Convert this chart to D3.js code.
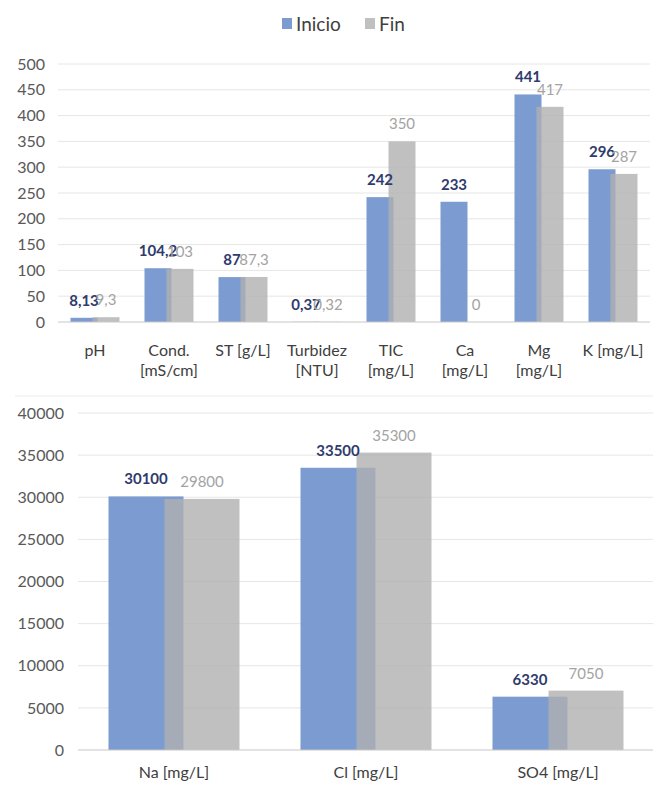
<!DOCTYPE html>
<html>
<head>
<meta charset="utf-8">
<script src="https://cdn.jsdelivr.net/npm/d3@7"></script>
<style>
  html, body { margin: 0; padding: 0; background: #fff; }
  svg { display: block; font-family: Lato, "Open Sans", sans-serif; }
</style>
</head>
<body>
<svg id="chart" width="653" height="788"></svg>
<script>
// Parámetros fisicoquímicos (panel superior)
const topCategories = ["pH", "Cond.\n[mS/cm]", "ST [g/L]", "Turbidez\n[NTU]", "TIC\n[mg/L]", "Ca\n[mg/L]", "Mg\n[mg/L]", "K [mg/L]"];
const topInicio = [8.13, 104.2, 87, 0.37, 242, 233, 441, 296];
const topFin = [9.3, 103, 87.3, 0.32, 350, 0, 417, 287];
const topTicks = [0, 50, 100, 150, 200, 250, 300, 350, 400, 450, 500];

// Iones mayoritarios (panel inferior)
const bottomCategories = ["Na [mg/L]", "Cl [mg/L]", "SO4 [mg/L]"];
const bottomInicio = [30100, 33500, 6330];
const bottomFin = [29800, 35300, 7050];
const bottomTicks = [0, 5000, 10000, 15000, 20000, 25000, 30000, 35000, 40000];

const seriesNames = ["Inicio", "Fin"];

const BLUE = "#7b9bd1";
const GREY = "#b0b0b0";
const svg = d3.select("#chart");

const fmt = v => String(v).replace(".", ",");

// Leyenda
const legend = svg.append("g");
legend.append("rect").attr("x", 282).attr("y", 18).attr("width", 10).attr("height", 11).attr("fill", BLUE);
legend.append("text").attr("x", 296).attr("y", 31).attr("font-size", 19).attr("fill", "#404040").text(seriesNames[0]);
legend.append("rect").attr("x", 365).attr("y", 18).attr("width", 10).attr("height", 11).attr("fill", GREY).attr("opacity", 0.8);
legend.append("text").attr("x", 379).attr("y", 31).attr("font-size", 19).attr("fill", "#404040").text(seriesNames[1]);

function panel(opt) {
  const g = svg.append("g");
  const x = d3.scaleBand().domain(opt.categories).range([opt.x0, opt.x1]);
  const y = d3.scaleLinear().domain([0, opt.ticks[opt.ticks.length - 1]]).range([opt.y0, opt.y1]);

  // Líneas de cuadrícula
  g.append("g").selectAll("line").data(opt.ticks.slice(1)).join("line")
    .attr("x1", opt.x0).attr("x2", opt.x1)
    .attr("y1", d => y(d)).attr("y2", d => y(d))
    .attr("stroke", "#e6e6e6").attr("stroke-width", 1);

  // Eje Y
  const yAxis = g.append("g")
    .attr("transform", `translate(${opt.labelX},0)`)
    .call(d3.axisLeft(y).tickValues(opt.ticks).tickFormat(d3.format("d")).tickSize(0).tickPadding(0));
  yAxis.select(".domain").remove();
  yAxis.selectAll("text").attr("font-size", 16).attr("fill", "#595959")
    .attr("font-family", "Lato, sans-serif");

  const c = d => x(d) + x.bandwidth() / 2;
  const bw = opt.barWidth, ov = opt.overlap;
  const xi = d => c(d) - bw + ov / 2;
  const xf = d => c(d) - ov / 2;

  const rows = opt.categories.map((k, i) => ({ k, a: opt.inicio[i], b: opt.fin[i] }));

  // Barras Inicio
  g.append("g").selectAll("rect").data(rows).join("rect")
    .attr("x", d => xi(d.k)).attr("width", bw)
    .attr("y", d => y(d.a)).attr("height", d => y(0) - y(d.a))
    .attr("fill", BLUE);
  // Barras Fin
  g.append("g").selectAll("rect").data(rows).join("rect")
    .attr("x", d => xf(d.k)).attr("width", bw)
    .attr("y", d => y(d.b)).attr("height", d => y(0) - y(d.b))
    .attr("fill", GREY).attr("opacity", 0.8);

  // Eje X
  g.append("line").attr("x1", opt.x0).attr("x2", opt.x1)
    .attr("y1", y(0)).attr("y2", y(0)).attr("stroke", "#c8c8c8").attr("stroke-width", 1.2);

  // Etiquetas de datos
  g.append("g").selectAll("text").data(rows).join("text")
    .attr("x", d => xi(d.k) + bw / 2).attr("y", d => y(d.a) - opt.labelGap)
    .attr("text-anchor", "middle").attr("font-size", 15).attr("font-weight", "bold")
    .attr("fill", "#2f3b6c").text(d => fmt(d.a));
  g.append("g").selectAll("text").data(rows).join("text")
    .attr("x", d => xf(d.k) + bw / 2).attr("y", d => y(d.b) - opt.labelGap)
    .attr("text-anchor", "middle").attr("font-size", 15)
    .attr("fill", "#a3a3a3").text(d => fmt(d.b));

  // Categorías
  const cat = g.append("g").selectAll("text").data(opt.categories).join("text")
    .attr("x", d => c(d)).attr("y", opt.catY)
    .attr("text-anchor", "middle").attr("font-size", 16).attr("fill", "#404040");
  cat.each(function (d) {
    const lines = d.split("\n");
    d3.select(this).selectAll("tspan").data(lines).join("tspan")
      .attr("x", c(d)).attr("dy", (l, i) => i === 0 ? 0 : 20).text(l => l);
  });
}

panel({
  categories: topCategories, inicio: topInicio, fin: topFin, ticks: topTicks,
  x0: 58, x1: 650, y0: 322, y1: 64, labelX: 45,
  barWidth: 27, overlap: 5, labelGap: 12, catY: 356
});

// Separador entre paneles
svg.append("line").attr("x1", 15).attr("x2", 653).attr("y1", 396).attr("y2", 396)
  .attr("stroke", "#ececec").attr("stroke-width", 1);

panel({
  categories: bottomCategories, inicio: bottomInicio, fin: bottomFin, ticks: bottomTicks,
  x0: 78, x1: 654, y0: 750, y1: 413, labelX: 64,
  barWidth: 75, overlap: 19, labelGap: 12, catY: 778
});
</script>
</body>
</html>
